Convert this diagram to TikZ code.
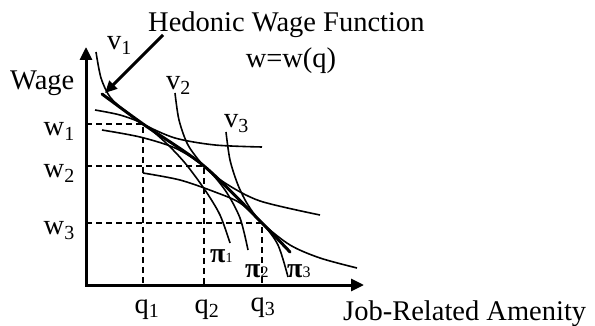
\documentclass[tikz,border=0pt]{standalone}
\usepackage{fontspec}
\setmainfont{Liberation Serif}
\usetikzlibrary{arrows.meta}

\begin{document}
\begin{tikzpicture}[x=1pt, y=-1pt, font=\fontsize{28.5}{33}\selectfont]
\tikzstyle{axis}=[line width=3pt, {Triangle[length=13pt, width=12pt]}-{Triangle[length=13pt, width=12pt]}]
\tikzstyle{curve}=[line width=1.6pt]
\tikzstyle{hed}=[line width=3pt, line cap=round]
\tikzstyle{guide}=[line width=1.8pt, dash pattern=on 6pt off 4pt]
\tikzstyle{pointer}=[line width=3pt, -{Triangle[length=12pt, width=11pt]}]
\tikzstyle{lbl}=[inner sep=0pt]
\tikzstyle{pilbl}=[inner sep=0pt, anchor=base west, font=\fontsize{28}{32}\selectfont\bfseries]
\useasboundingbox (0,0) rectangle (595,326);
\coordinate (ytop) at (86,47);
\coordinate (o) at (86,285);
\coordinate (xend) at (364,285);
\draw[axis] (ytop) -- (o) -- (xend);
\coordinate (e1) at (143,124); \coordinate (e2) at (204,166); \coordinate (e3) at (262,223);
\draw[guide] (86,124) -- (e1) -- (143,285);
\draw[guide] (86,166) -- (e2) -- (204,285);
\draw[guide] (86,223) -- (e3) -- (262,285);
\draw[curve] plot[smooth] coordinates {(96,52) (101,78) (110,97) (125,111) (143,124) (175,138) (215,145) (262,147)};
\draw[curve] plot[smooth] coordinates {(175,93) (179,120) (188,145) (204,166) (225,183) (260,201) (320,215)};
\draw[curve] plot[smooth] coordinates {(226,132) (230,160) (238,185) (248,205) (262,223) (290,245) (320,258) (357,268)};
\draw[curve] plot[smooth] coordinates {(95,110) (120,115) (143,124) (165,142) (185,163) (205,190) (220,215) (230,243)};
\draw[curve] plot[smooth] coordinates {(102,130) (140,137) (175,148) (204,166) (225,190) (240,218) (248,250)};
\draw[curve] plot[smooth] coordinates {(143,173) (180,180) (215,192) (240,203) (262,223) (278,245) (288,277)};
\draw[hed] plot[smooth] coordinates {(102,94) (143,124) (204,166) (262,223) (290,252)};
\node[lbl, anchor=base west] (hwf) at (148,32) {Hedonic Wage Function};
\node[lbl, anchor=base] (wq) at (291,68) {w=w(q)};
\coordinate (hedtail) at (163,35);
\coordinate (hedtip) at (105,93);
\draw[pointer] (hedtail) -- (hedtip);
\node[lbl, anchor=base west] (wage) at (10,90) {Wage};
\node[lbl, anchor=base west] (amen) at (343,320) {Job-Related Amenity};
\node[lbl, anchor=base east] (w1) at (75,136) {w\textsubscript{1}};
\node[lbl, anchor=base east] (w2) at (75,178) {w\textsubscript{2}};
\node[lbl, anchor=base east] (w3) at (75,235) {w\textsubscript{3}};
\node[lbl, anchor=base] (q1) at (147,313) {q\textsubscript{1}};
\node[lbl, anchor=base] (q2) at (207,313) {q\textsubscript{2}};
\node[lbl, anchor=base] (q3) at (263,311) {q\textsubscript{3}};
\node[lbl, anchor=base west] (v1) at (107,50) {v\textsubscript{1}};
\node[lbl, anchor=base west] (v2) at (166,90) {v\textsubscript{2}};
\node[lbl, anchor=base west] (v3) at (224,128) {v\textsubscript{3}};
\node[pilbl] (p1) at (210,262) {π{\fontsize{14}{14}\selectfont\mdseries 1}};
\node[pilbl] (p2) at (245,277) {π{\fontsize{16}{16}\selectfont\mdseries 2}};
\node[pilbl] (p3) at (287,277) {π{\fontsize{16}{16}\selectfont\mdseries 3}};
\end{tikzpicture}
\end{document}
